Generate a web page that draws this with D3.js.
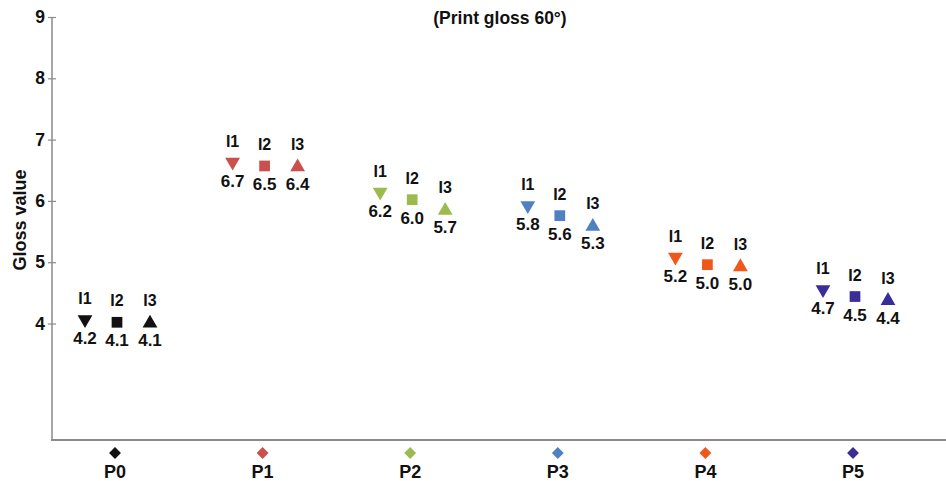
<!DOCTYPE html>
<html>
<head>
<meta charset="utf-8">
<script src="https://cdn.jsdelivr.net/npm/d3@7"></script>
<style>
  html, body { margin: 0; padding: 0; background: #fff; }
  svg { display: block; }
  text { font-family: "Liberation Sans", Arial, sans-serif; font-weight: bold; fill: #111; }
</style>
</head>
<body>
<svg id="chart" width="946" height="481"></svg>
<script>
// ---- data ----
const categories = ["P0", "P1", "P2", "P3", "P4", "P5"];
const seriesNames = ["I1", "I2", "I3"];
const categoryColors = ["#111111", "#c9504c", "#9bbb4f", "#4f81c2", "#f0571a", "#3a2d9a"];
// marker positions (per category: I1, I2, I3)
const valuesI1 = [4.05, 6.62, 6.13, 5.91, 5.07, 4.54];
const valuesI2 = [4.02, 6.57, 6.02, 5.76, 4.96, 4.44];
const valuesI3 = [4.02, 6.57, 5.86, 5.60, 4.94, 4.39];
// printed value labels
const labelsI1 = ["4.2", "6.7", "6.2", "5.8", "5.2", "4.7"];
const labelsI2 = ["4.1", "6.5", "6.0", "5.6", "5.0", "4.5"];
const labelsI3 = ["4.1", "6.4", "5.7", "5.3", "5.0", "4.4"];
const yTicks = [4, 5, 6, 7, 8, 9];
const yDomain = [2.1, 9];
const titleText = "(Print gloss 60\u00B0)";
const yTitle = "Gloss value";

// ---- layout ----
const svg = d3.select("#chart");
const x = d3.scalePoint().domain(categories).range([115, 853]);
const xOff = d3.scaleOrdinal().domain(seriesNames).range([-30, 2, 35]);
const y = d3.scaleLinear().domain(yDomain).range([440, 17]);
const axisColor = "#8a8a8a";

// title
svg.append("text").attr("x", 500).attr("y", 24).attr("text-anchor", "middle")
  .attr("font-size", 17.5).text(titleText);

// y axis title
svg.append("text").attr("transform", "translate(26,220) rotate(-90)")
  .attr("text-anchor", "middle").attr("font-size", 18).text(yTitle);

// y axis
const yAxis = d3.axisLeft(y).tickValues(yTicks).tickSize(4).tickPadding(5).tickFormat(d3.format("d"));
const gy = svg.append("g").attr("transform", "translate(52,0)").call(yAxis);
gy.select(".domain").remove();
gy.selectAll(".tick line").attr("x2", -4).attr("x1", 4).attr("stroke", axisColor).attr("stroke-width", 1.2);
gy.selectAll(".tick text").attr("font-size", 17.5).attr("font-family", "Liberation Sans, Arial, sans-serif")
  .attr("font-weight", "bold").attr("fill", "#111").attr("x", -7);
svg.append("line").attr("x1", 52).attr("x2", 52).attr("y1", y(9)).attr("y2", y(yDomain[0]))
  .attr("stroke", axisColor).attr("stroke-width", 1.5);

// x axis
svg.append("line").attr("x1", 51).attr("x2", 946).attr("y1", y(yDomain[0])).attr("y2", y(yDomain[0]))
  .attr("stroke", axisColor).attr("stroke-width", 2);

// category diamonds + labels
const catG = svg.append("g");
categories.forEach((c, i) => {
  catG.append("path")
    .attr("d", d3.symbol().type(d3.symbolSquare).size(70)())
    .attr("transform", `translate(${x(c)},${453}) rotate(45)`)
    .attr("fill", categoryColors[i]);
  catG.append("text").attr("x", x(c)).attr("y", 478).attr("text-anchor", "middle")
    .attr("font-size", 18).text(c);
});

// points
const seriesValues = { I1: valuesI1, I2: valuesI2, I3: valuesI3 };
const seriesLabels = { I1: labelsI1, I2: labelsI2, I3: labelsI3 };
const triUp = d3.symbol().type(d3.symbolTriangle).size(95)();
const square = d3.symbol().type(d3.symbolSquare).size(115)();

const pts = [];
categories.forEach((c, i) => {
  seriesNames.forEach(s => {
    pts.push({ cat: c, ci: i, s, v: seriesValues[s][i], lab: seriesLabels[s][i] });
  });
});

const g = svg.append("g");
pts.forEach(p => {
  const px = x(p.cat) + xOff(p.s);
  const py = y(p.v);
  let d, tr;
  if (p.s === "I1") { d = triUp; tr = `translate(${px},${py - 1}) rotate(180)`; }
  else if (p.s === "I2") { d = square; tr = `translate(${px},${py})`; }
  else { d = triUp; tr = `translate(${px},${py + 1})`; }
  g.append("path").attr("d", d).attr("transform", tr).attr("fill", categoryColors[p.ci]);
  g.append("text").attr("x", px).attr("y", py - 16).attr("text-anchor", "middle")
    .attr("font-size", 16).text(p.s);
  g.append("text").attr("x", px).attr("y", py + 24).attr("text-anchor", "middle")
    .attr("font-size", 17).text(p.lab);
});
</script>
</body>
</html>
